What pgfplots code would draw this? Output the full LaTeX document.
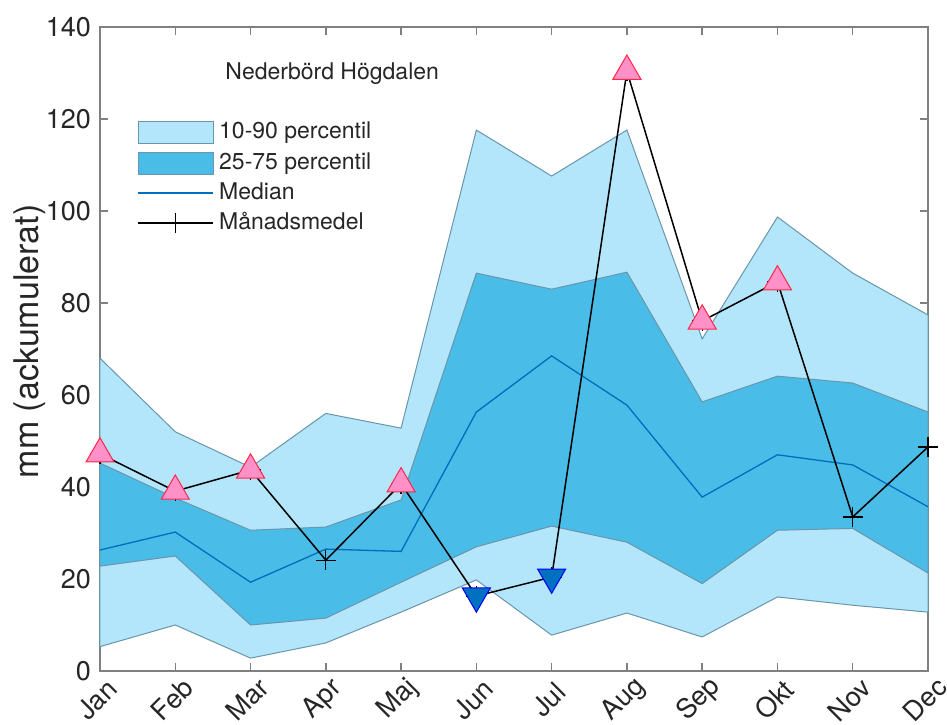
\documentclass[border=0pt]{standalone}
\usepackage{pgfplots}
\pgfplotsset{compat=1.18}
\usepackage{fontspec}
\setmainfont{TeX Gyre Heros}
\usetikzlibrary{calc}
\definecolor{lightband}{RGB}{179,229,251}
\definecolor{darkband}{RGB}{74,188,232}
\definecolor{bandedge}{RGB}{105,150,170}
\definecolor{medianc}{RGB}{0,110,190}
\definecolor{pinkfill}{RGB}{255,145,200}
\definecolor{rededge}{RGB}{255,40,70}
\definecolor{downfill}{RGB}{0,112,192}
\definecolor{downedge}{RGB}{0,0,255}
\definecolor{axisgray}{RGB}{128,128,128}
\definecolor{textgray}{RGB}{38,38,38}
\begin{document}
\begin{tikzpicture}
\begin{axis}[name=ax,
  scale only axis, width=414pt, height=322pt,
  xmin=0, xmax=11, ymin=0, ymax=140,
  xtick={0,...,11},
  xticklabels={Jan,Feb,Mar,Apr,Maj,Jun,Jul,Aug,Sep,Okt,Nov,Dec},
  ytick={0,20,...,140},
  tick align=inside, major tick length=4pt,
  xtick pos=both, ytick pos=both,
  axis line style={axisgray, line width=0.9pt},
  tick style={axisgray, line width=0.7pt},
  /pgf/number format/assume math mode=true,
  ticklabel style={font=\fontsize{13.5}{15}\selectfont, text=textgray},
  xticklabel style={yshift=-14.3pt, xshift=-1.5pt, rotate=45, anchor=center},
  yticklabel style={xshift=-1pt},
  ylabel={mm (ackumulerat)},
  ylabel style={at={(axis description cs:-0.0845,0.512)}, anchor=center, rotate=0, font=\fontsize{17}{19}\selectfont, text=textgray},
  legend style={draw=none, fill=none, at={(rel axis cs:0.0447,0.855)}, anchor=north west,
    font=\fontsize{11.5}{13}\selectfont, text=textgray, row sep=3.9pt, inner sep=0pt,
    nodes={text height=8.5pt, text depth=2.5pt, inner ysep=0pt, inner xsep=2.5pt}},
  legend cell align=left,
  clip=false,
]
% 10-90 band
\addplot[fill=lightband, draw=bandedge, line width=0.5pt,
  legend image code/.code={\draw[fill=lightband, draw=bandedge, line width=0.5pt] (0pt,-5.5pt) rectangle (37.5pt,5.5pt);}]
  coordinates {(0,68.0) (1,52.0) (2,44.3) (3,56.0) (4,52.8) (5,117.6) (6,107.6) (7,117.6) (8,72.2) (9,98.7) (10,86.5) (11,77.4)
               (11,12.8) (10,14.3) (9,16.1) (8,7.4) (7,12.6) (6,7.8) (5,19.8) (4,12.8) (3,6.1) (2,2.8) (1,10.0) (0,5.3)} -- cycle;
\addlegendentry{10-90 percentil}
% 25-75 band
\addplot[fill=darkband, draw=bandedge, line width=0.5pt,
  legend image code/.code={\draw[fill=darkband, draw=bandedge, line width=0.5pt] (0pt,-5.5pt) rectangle (37.5pt,5.5pt);}]
  coordinates {(0,45.2) (1,37.6) (2,30.6) (3,31.3) (4,37.2) (5,86.5) (6,83.0) (7,86.7) (8,58.5) (9,64.1) (10,62.6) (11,56.3)
               (11,21.3) (10,31.0) (9,30.6) (8,19.0) (7,28.0) (6,31.5) (5,27.0) (4,19.3) (3,11.5) (2,10.0) (1,25.0) (0,22.8)} -- cycle;
\addlegendentry{25-75 percentil}
% median
\addplot[medianc, line width=0.65pt, mark=none,
  legend image code/.code={\draw[medianc, line width=0.9pt] (0pt,0pt) -- (37.5pt,0pt);}]
  coordinates {(0,26.3) (1,30.2) (2,19.3) (3,26.5) (4,26.0) (5,56.3) (6,68.5) (7,57.8) (8,37.8) (9,47.0) (10,44.8) (11,35.7)};
\addlegendentry{Median}
% mean
\addplot[black, line width=0.75pt, mark=+, mark size=5pt, mark options={line width=0.6pt},
  legend image code/.code={\draw[black, line width=0.75pt] (0pt,0pt) -- (37.5pt,0pt); \draw[black, line width=0.6pt] (18.75pt,-5pt) -- (18.75pt,5pt) (13.75pt,0pt) -- (23.75pt,0pt);}]
  coordinates {(0,47.2) (1,39.1) (2,43.7) (3,24.1) (4,40.7) (5,16.3) (6,20.4) (7,130.4) (8,76.1) (9,84.6) (10,33.5) (11,48.7)};
\addlegendentry{Månadsmedel}
% above 75 percentile
\addplot[forget plot, only marks, mark=triangle*, mark size=8.1pt,
  mark options={fill=pinkfill, draw=rededge, line width=0.5pt}]
  coordinates {(0,47.2) (1,39.1) (2,43.7) (4,40.7) (7,130.4) (8,76.1) (9,84.6)};
% below 25 percentile
\addplot[forget plot, only marks, mark=triangle*, mark size=8.1pt,
  mark options={fill=downfill, draw=downedge, line width=0.5pt, rotate=180}]
  coordinates {(5,16.3) (6,20.4)};
\node[anchor=west, font=\fontsize{11.5}{13}\selectfont, text=textgray] at (rel axis cs:0.143,0.927) {Nederbörd Högdalen};
\end{axis}
\pgfresetboundingbox
\useasboundingbox ($(ax.south west)+(-50pt,-26.5pt)$) rectangle ($(ax.north east)+(9.5pt,13.5pt)$);
\end{tikzpicture}
\end{document}
